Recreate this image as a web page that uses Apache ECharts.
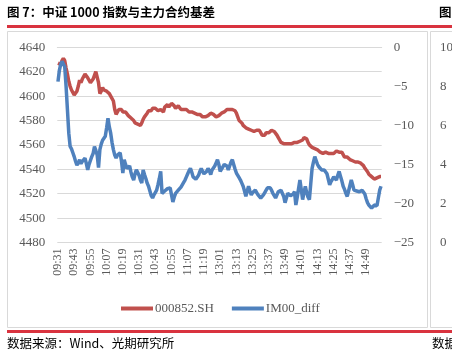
<!DOCTYPE html>
<html>
<head>
<meta charset="utf-8">
<script src="https://cdn.jsdelivr.net/npm/echarts@6/dist/echarts.min.js"></script>
<style>
html,body{margin:0;padding:0;background:#fff;}
#c{width:452px;height:360px;}
</style>
</head>
<body>
<div id="c"></div>
<script>
// Time categories: trading minutes 09:31-11:30 and 13:01-15:00
function minuteRange(h0, m0, count) {
  var out = [];
  for (var k = 0; k < count; k++) {
    var t = h0 * 60 + m0 + k;
    var h = Math.floor(t / 60), m = t % 60;
    out.push((h < 10 ? '0' : '') + h + ':' + (m < 10 ? '0' : '') + m);
  }
  return out;
}
var categories = minuteRange(9, 31, 120).concat(minuteRange(13, 1, 120));

var seriesNames = ['000852.SH', 'IM00_diff'];

var indexValues = [
4627,4628,4626,4629,4631,4629,4623,4618,4612,4608,
4605,4603,4601,4600,4604,4608,4613,4611,4614,4613,
4618,4617,4615,4613,4611,4612,4614,4617,4620,4619,
4611,4602,4604,4607,4605,4605,4604,4603,4602,4600,
4601,4596,4589,4585,4586,4589,4588,4589,4587,4588,
4587,4586,4584,4583,4582,4581,4580,4578,4578,4577,
4576,4576,4578,4581,4583,4584,4586,4588,4589,4588,
4590,4589,4590,4591,4588,4589,4589,4588,4587,4591,
4592,4593,4591,4592,4594,4593,4592,4590,4591,4592,
4591,4589,4590,4589,4590,4589,4588,4587,4588,4587,
4586,4586,4585,4585,4584,4585,4584,4583,4583,4583,
4583,4584,4585,4586,4585,4585,4584,4583,4583,4584,
4585,4586,4587,4587,4588,4589,4590,4589,4590,4589,
4589,4588,4586,4583,4580,4579,4578,4576,4575,4574,
4573,4573,4572,4572,4571,4571,4571,4572,4573,4572,
4571,4568,4567,4568,4570,4571,4570,4571,4572,4571,
4571,4570,4568,4566,4564,4562,4562,4561,4562,4561,
4562,4561,4562,4561,4561,4562,4561,4562,4562,4563,
4563,4564,4566,4567,4565,4562,4560,4559,4558,4558,
4557,4556,4556,4555,4554,4554,4553,4554,4554,4553,
4553,4554,4553,4553,4553,4554,4555,4554,4554,4554,
4554,4552,4550,4549,4550,4549,4548,4547,4547,4546,
4546,4546,4546,4546,4545,4545,4543,4541,4540,4538,
4536,4535,4534,4533,4532,4532,4533,4534,4534,4534
];

var diffValues = [
-4.4,-3.0,-2.2,-1.8,-2.0,-2.5,-5.0,-8.0,-11.0,-12.7,
-13.0,-13.5,-14.0,-14.6,-15.1,-14.8,-14.4,-14.9,-14.6,-14.8,
-14.2,-14.9,-15.7,-15.0,-14.5,-14.0,-13.6,-12.7,-13.2,-13.8,
-15.4,-13.1,-12.4,-11.9,-11.8,-11.4,-10.3,-9.1,-10.2,-11.0,
-12.2,-13.1,-13.8,-14.2,-13.8,-13.6,-13.5,-14.6,-16.1,-14.4,
-15.0,-15.5,-15.7,-15.2,-16.0,-16.6,-17.0,-16.2,-15.7,-15.5,
-16.4,-17.0,-17.4,-15.7,-16.3,-16.8,-17.4,-17.8,-18.4,-19.0,
-19.3,-18.9,-18.6,-18.3,-17.6,-16.8,-15.9,-18.7,-18.5,-18.4,
-18.3,-18.1,-18.2,-18.0,-18.0,-19.8,-19.2,-18.7,-18.5,-18.3,
-18.1,-17.9,-17.8,-17.3,-17.0,-16.6,-16.2,-15.8,-15.5,-16.0,
-16.6,-16.8,-16.9,-17.0,-16.4,-15.9,-15.5,-15.9,-16.2,-16.3,
-15.9,-15.5,-15.8,-16.3,-15.7,-15.5,-15.2,-14.8,-14.4,-15.0,
-15.9,-15.6,-15.3,-15.0,-14.8,-15.2,-15.7,-15.2,-14.7,-14.4,
-15.0,-15.6,-16.1,-16.4,-16.7,-17.0,-17.4,-17.8,-18.4,-19.1,
-18.4,-17.8,-18.4,-18.9,-18.6,-18.4,-18.3,-18.6,-18.9,-19.1,
-19.3,-19.1,-18.9,-18.6,-18.3,-18.0,-17.8,-18.0,-18.3,-18.7,
-19.0,-19.3,-18.9,-18.5,-18.4,-18.3,-18.3,-19.1,-19.9,-19.3,
-18.7,-18.9,-19.0,-19.1,-18.8,-18.5,-20.2,-19.2,-18.1,-17.0,
-18.2,-19.5,-18.6,-17.8,-18.6,-19.2,-19.5,-17.5,-15.5,-14.7,
-14.0,-14.5,-15.0,-15.3,-15.5,-15.7,-15.9,-15.7,-15.5,-16.2,
-16.9,-17.6,-17.2,-16.9,-16.6,-16.8,-17.0,-16.4,-15.9,-16.5,
-17.1,-17.8,-18.2,-18.7,-19.1,-18.4,-17.7,-17.0,-17.6,-18.3,
-18.4,-18.4,-18.5,-18.5,-18.4,-18.3,-18.3,-18.8,-19.4,-19.9,
-20.2,-20.4,-20.6,-20.4,-20.2,-20.2,-20.3,-20.4,-18.3,-17.8
];

var leftTicks = {min: 4480, max: 4640, interval: 20};
var rightTicks = {min: -25, max: 0, interval: 5};
var sideTickLabels = ['10', '8', '6', '4', '2', '0'];

var titleText = '图 7：中证 1000 指数与主力合约基差';
var sourceText = '数据来源：Wind、光期研究所';

var serifName = 'Liberation Serif';
var serif = '"Liberation Serif", serif';
var cjk = '"Noto Sans CJK SC", sans-serif';
var gray = '#595959';
var red = '#c0504d', blue = '#4f81bd';

var chart = echarts.init(document.getElementById('c'), null, {renderer: 'canvas'});

var graphics = [
  {type: 'text', left: 7, top: 6, style: {text: titleText, font: 'bold 12.5px ' + cjk, fill: '#000'}},
  {type: 'text', left: 439, top: 6, style: {text: '图', font: 'bold 12.5px ' + cjk, fill: '#000'}},
  {type: 'rect', shape: {x: 7, y: 25, width: 445, height: 3}, style: {fill: '#d9333f'}},
  {type: 'rect', shape: {x: 7.5, y: 31.5, width: 420, height: 296}, style: {fill: 'none', stroke: '#d9d9d9', lineWidth: 1}},
  {type: 'rect', shape: {x: 430.5, y: 31.5, width: 30, height: 296}, style: {fill: 'none', stroke: '#d9d9d9', lineWidth: 1}},
  {type: 'rect', shape: {x: 7, y: 330, width: 445, height: 3}, style: {fill: '#d9333f'}},
  {type: 'text', left: 7, top: 337, style: {text: sourceText, font: '12.5px ' + cjk, fill: '#000'}},
  {type: 'text', left: 432, top: 337, style: {text: '数据', font: '12.5px ' + cjk, fill: '#000'}}
];
sideTickLabels.forEach(function (t, k) {
  graphics.push({type: 'text', left: 440, top: 48 + k * 39 - 7,
    style: {text: t, font: '13px ' + serif, fill: gray}});
});

chart.setOption({
  animation: false,
  backgroundColor: '#fff',
  graphic: graphics,
  grid: {left: 57.3, right: 70.3, top: 47.3, bottom: 117.5},
  legend: {
    data: seriesNames,
    left: 116, top: 297,
    itemWidth: 32, itemHeight: 4, itemGap: 18,
    icon: 'rect',
    textStyle: {fontFamily: serifName, fontSize: 13, color: gray, padding: [0, 0, 0, -3]}
  },
  xAxis: {
    type: 'category',
    data: categories,
    boundaryGap: true,
    axisLine: {show: true, lineStyle: {color: '#d9d9d9'}},
    axisTick: {show: false},
    axisLabel: {interval: 11, rotate: 90, fontFamily: serifName, fontSize: 12, color: gray, margin: 6}
  },
  yAxis: [
    {
      type: 'value', min: leftTicks.min, max: leftTicks.max, interval: leftTicks.interval,
      axisLine: {show: false}, axisTick: {show: false},
      splitLine: {lineStyle: {color: '#d9d9d9', width: 1}},
      axisLabel: {fontFamily: serifName, fontSize: 13, color: gray, margin: 12,
        formatter: function (v) { return String(v); }}
    },
    {
      type: 'value', min: rightTicks.min, max: rightTicks.max, interval: rightTicks.interval,
      position: 'right',
      axisLine: {show: false}, axisTick: {show: false}, splitLine: {show: false},
      axisLabel: {fontFamily: serifName, fontSize: 13, color: gray, margin: 12,
        formatter: function (v) { return v < 0 ? '\u2212' + Math.abs(v) : String(v); }}
    }
  ],
  series: [
    {name: seriesNames[0], type: 'line', yAxisIndex: 0, data: indexValues,
      symbol: 'none', lineStyle: {color: red, width: 3.5}, itemStyle: {color: red}},
    {name: seriesNames[1], type: 'line', yAxisIndex: 1, data: diffValues,
      symbol: 'none', lineStyle: {color: blue, width: 3.5}, itemStyle: {color: blue}}
  ]
});
</script>
</body>
</html>
